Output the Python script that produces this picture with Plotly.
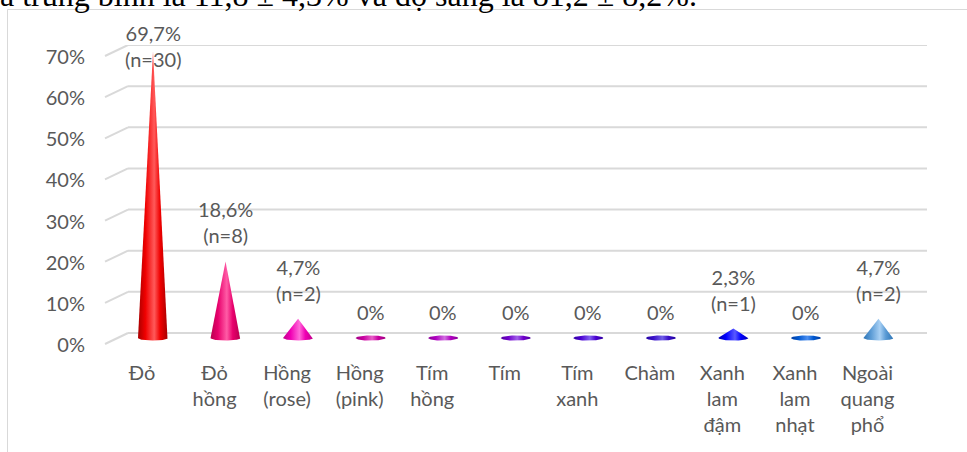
import numpy as np
import plotly.graph_objects as go

# ---- data -------------------------------------------------------------
categories = ["Đỏ", "Đỏ<br>hồng", "Hồng<br>(rose)", "Hồng<br>(pink)", "Tím<br>hồng",
              "Tím", "Tím<br>xanh", "Chàm", "Xanh<br>lam<br>đậm", "Xanh<br>lam<br>nhạt",
              "Ngoài<br>quang<br>phổ"]
percent = [69.7, 18.6, 4.7, 0, 0, 0, 0, 0, 2.3, 0, 4.7]
counts = [30, 8, 2, 0, 0, 0, 0, 0, 1, 0, 2]
y_ticks = [0, 10, 20, 30, 40, 50, 60, 70]

# (edge, body, highlight) colours of each cone
cone_colors = [
    ("#a80000", "#f00000", "#ff5a5a"),
    ("#b8004f", "#e8006c", "#ff5ca6"),
    ("#c0008a", "#f000b4", "#ff6ad8"),
    ("#a00080", "#c800a0", "#e860c8"),
    ("#8a0098", "#b000c0", "#d070e0"),
    ("#5000a0", "#7000cc", "#a060e8"),
    ("#3000a0", "#4a00d0", "#8060f0"),
    ("#2000a0", "#3a10c8", "#7060e8"),
    ("#0000b0", "#0000ff", "#5a5aff"),
    ("#003ca0", "#0058d0", "#4a8ef0"),
    ("#2e75b6", "#5b9bd5", "#a8d0f4"),
]

# ---- layout geometry --------------------------------------------------
W, H = 967, 452
WALL_TOP, WALL_BOTTOM = 45, 333      # pixel rows of the 70 % and 0 % wall lines
PLOT_BOTTOM = 352                    # plot area extends below the wall for the cone floor
ML, MR, MT, MB = 128, 40, WALL_TOP, H - PLOT_BOTTOM
PW, PH = W - ML - MR, H - MT - MB
Y_MAX = 70
PX_Y = (WALL_BOTTOM - WALL_TOP) / Y_MAX   # pixels per percentage point
Y_MIN = Y_MAX - PH / PX_Y
PX_X = 72.55                 # pixels per category
X0 = -25 / PX_X
BASE_DROP = 5                # cone floor sits slightly in front of the back wall
FONT = "Lato"
GREY = "#595959"


def paper_x(px):
    return (px - ML) / PW


def paper_y(py):
    return (H - MB - py) / PH


def cone_outline(i, v, a=15.0, b=2.6):
    """Silhouette of an upright cone with an elliptical base, in data units."""
    h = v * PX_Y
    if h > b * 1.05:
        yt = b * b / h
        xt = a * np.sqrt(1 - (b / h) ** 2)
        th_r = np.arctan2(yt / b, xt / a)
        th = np.linspace(th_r, -np.pi - th_r, 60)
        xs = np.concatenate([[0.0], a * np.cos(th), [0.0]])
        ys = np.concatenate([[h], b * np.sin(th), [h]])
    else:
        th = np.linspace(0, 2 * np.pi, 80)
        xs = a * np.cos(th)
        ys = b * np.sin(th)
    return i + xs / PX_X, ys / PX_Y


fig = go.Figure()

for i, (v, (edge, body, hi)) in enumerate(zip(percent, cone_colors)):
    xs, ys = cone_outline(i, v)
    fig.add_trace(go.Scatter(
        x=xs, y=ys, yaxis="y2", mode="lines", fill="toself",
        line=dict(width=0, color=body),
        fillcolor=body,
        fillgradient=dict(type="horizontal",
                          colorscale=[[0, edge], [0.25, body], [0.55, hi],
                                      [0.75, body], [1, edge]]),
        hoverinfo="skip", showlegend=False,
    ))

# back-wall grid lines with the short receding side segments
shapes = []
side_dx = -23 / PW
side_dy = -11 / PX_Y
for t in y_ticks:
    shapes.append(dict(type="line", xref="paper", yref="y", x0=0, x1=1, y0=t, y1=t,
                       line=dict(color="#d9d9d9", width=2), layer="below"))
    shapes.append(dict(type="line", xref="paper", yref="y", x0=0, x1=side_dx,
                       y0=t, y1=t + side_dy,
                       line=dict(color="#d9d9d9", width=2), layer="below"))

# chart frame
shapes.append(dict(type="rect", xref="paper", yref="paper",
                   x0=paper_x(7.5), x1=paper_x(990), y0=paper_y(9.5), y1=paper_y(470),
                   line=dict(color="#d9d9d9", width=1), layer="below"))

# value labels above each cone
annotations = []
label_cap = (WALL_BOTTOM + BASE_DROP - 73) / PX_Y
for i, (v, n) in enumerate(zip(percent, counts)):
    if v > 0:
        txt = f"{v:.1f}".replace(".", ",") + f"%<br>(n={n})"
    else:
        txt = "0%"
    y_lab = min(v + 12 / PX_Y, label_cap)
    annotations.append(dict(x=i, y=y_lab, xref="x", yref="y2", text=txt,
                            showarrow=False, yanchor="bottom", xanchor="center",
                            font=dict(family=FONT, size=20, color=GREY)))

# body text line running above the chart frame
annotations.append(dict(
    xref="paper", yref="paper", x=paper_x(-2), y=paper_y(15),
    xanchor="left", yanchor="bottom", showarrow=False,
    text="a trung bình là 11,8 ± 4,3% và độ sáng là 81,2 ± 8,2%.",
    font=dict(family="Liberation Serif", size=32, color="#000000"),
))

y2_shift = BASE_DROP / PX_Y
fig.update_layout(
    width=W, height=H,
    margin=dict(l=ML, r=MR, t=MT, b=MB, autoexpand=False),
    paper_bgcolor="white", plot_bgcolor="rgba(0,0,0,0)",
    font=dict(family=FONT, size=20, color=GREY),
    xaxis=dict(range=[X0, X0 + PW / PX_X], tickvals=list(range(len(categories))),
               ticktext=categories, showgrid=False, zeroline=False, showline=False,
               ticks="", ticklabelshift=-11, ticklabelstandoff=26 - (PLOT_BOTTOM - WALL_BOTTOM),
               tickfont=dict(family=FONT, size=20, color=GREY), fixedrange=True),
    yaxis=dict(range=[Y_MIN, Y_MAX], tickvals=y_ticks, ticktext=[f"{t}%" for t in y_ticks],
               showgrid=False, zeroline=False, showline=False, ticks="",
               ticklabelshift=12, ticklabelstandoff=42,
               tickfont=dict(family=FONT, size=20, color=GREY), fixedrange=True),
    yaxis2=dict(overlaying="y", range=[Y_MIN + y2_shift, Y_MAX + y2_shift],
                visible=False, fixedrange=True),
    shapes=shapes, annotations=annotations,
    showlegend=False,
)

fig.write_html("out.html")
